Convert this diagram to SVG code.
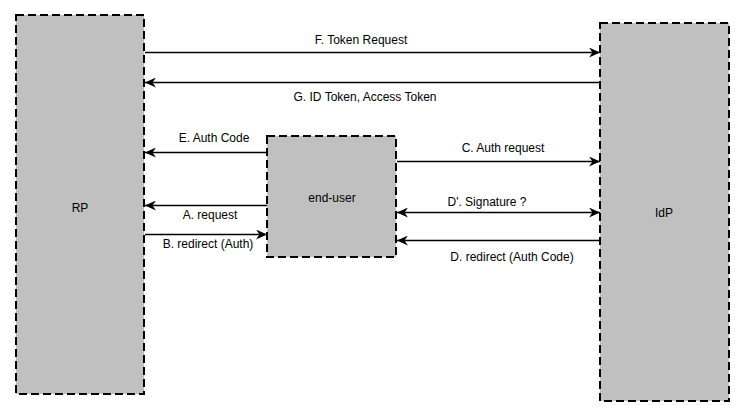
<svg xmlns="http://www.w3.org/2000/svg" width="744" height="418" viewBox="0 0 744 418">
<style>
.box{fill:#c0c0c0;stroke:#000;stroke-width:2;stroke-dasharray:8,4}
.lbl{font-family:"Liberation Sans",Arial,sans-serif;font-size:12px;fill:#000;text-anchor:middle}
.c{stroke:#000;stroke-width:1.3;fill:none}
</style>
<defs>
<marker id="ah" markerWidth="12" markerHeight="10" refX="11" refY="5" orient="auto" markerUnits="userSpaceOnUse">
<path d="M0,0 L11,5 L0,10 L3.5,5 z" fill="#000"/>
</marker>
<marker id="as" markerWidth="12" markerHeight="10" refX="1" refY="5" orient="auto" markerUnits="userSpaceOnUse">
<path d="M12,0 L1,5 L12,10 L8.5,5 z" fill="#000"/>
</marker>
</defs>
<rect width="744" height="418" fill="#fff"/>
<g id="rp"><rect class="box" x="16" y="15" width="128" height="379"/><text class="lbl" x="80" y="212">RP</text></g>
<g id="idp"><rect class="box" x="600" y="23" width="129" height="378"/><text class="lbl" x="664" y="217">IdP</text></g>
<g id="enduser"><rect class="box" x="267" y="136" width="129" height="121"/><text class="lbl" x="332" y="202">end-user</text></g>
<g id="connectors">
<line class="c" x1="145" y1="52.5" x2="600" y2="52.5" marker-end="url(#ah)"/>
<text class="lbl" x="361" y="44">F. Token Request</text>
<line class="c" x1="600" y1="82.5" x2="145" y2="82.5" marker-end="url(#ah)"/>
<text class="lbl" x="365" y="101">G. ID Token, Access Token</text>
<line class="c" x1="267" y1="152.5" x2="145" y2="152.5" marker-end="url(#ah)"/>
<text class="lbl" x="214" y="142">E. Auth Code</text>
<line class="c" x1="397" y1="161.5" x2="600" y2="161.5" marker-end="url(#ah)"/>
<text class="lbl" x="503" y="152">C. Auth request</text>
<line class="c" x1="397" y1="212.5" x2="600" y2="212.5" marker-start="url(#as)" marker-end="url(#ah)"/>
<text class="lbl" x="487" y="206">D'. Signature ?</text>
<line class="c" x1="267" y1="205.5" x2="145" y2="205.5" marker-end="url(#ah)"/>
<text class="lbl" x="210" y="219">A. request</text>
<line class="c" x1="145" y1="234.5" x2="267" y2="234.5" marker-end="url(#ah)"/>
<text class="lbl" x="208" y="248">B. redirect (Auth)</text>
<line class="c" x1="600" y1="240.5" x2="397" y2="240.5" marker-end="url(#ah)"/>
<text class="lbl" x="512" y="261">D. redirect (Auth Code)</text>
</g>
</svg>
